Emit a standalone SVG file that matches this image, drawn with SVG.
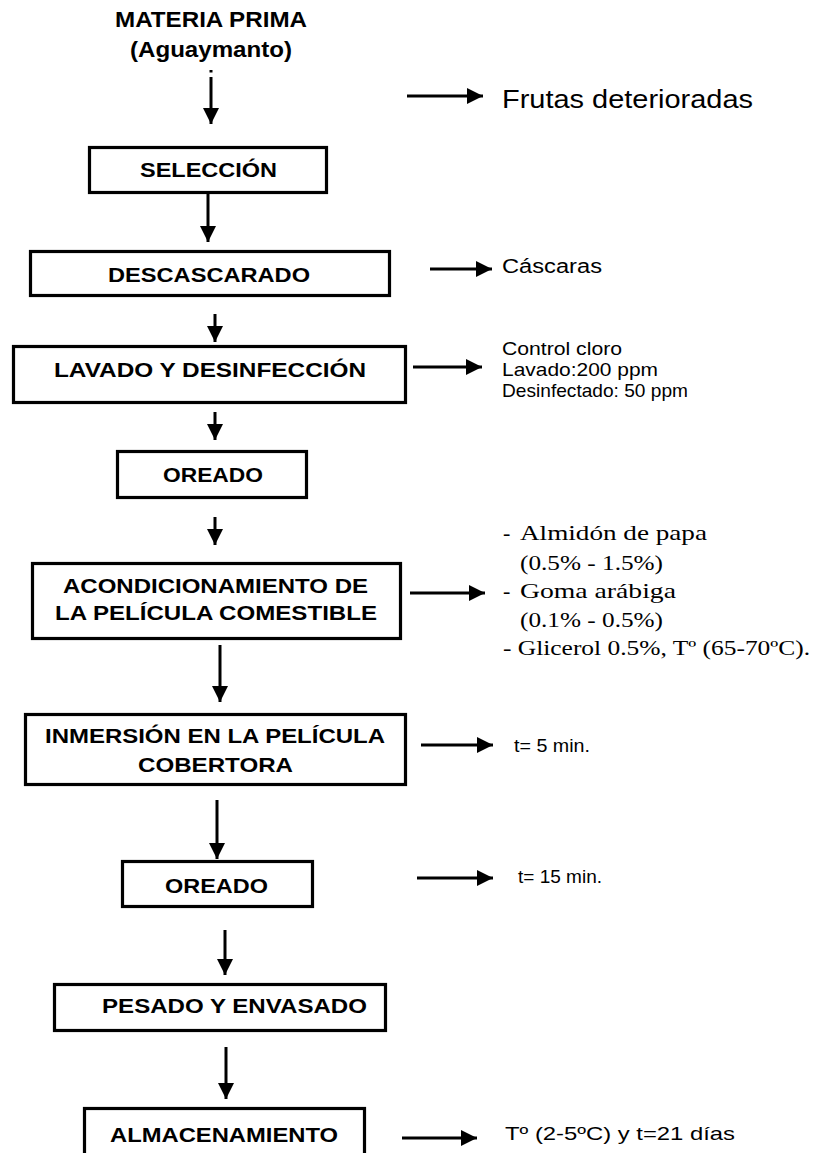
<svg xmlns="http://www.w3.org/2000/svg" width="824" height="1153" viewBox="0 0 824 1153">
<style>
.box{fill:#fff;stroke:#000;stroke-width:3.2}
.lbl{font-family:"Liberation Sans",Arial,sans-serif;font-weight:bold;font-size:21px;fill:#000}
.title{font-family:"Liberation Sans",Arial,sans-serif;font-weight:bold;font-size:22px;fill:#000}
.note{font-family:"Liberation Sans",Arial,sans-serif;font-size:18.5px;fill:#000}
.serif{font-family:"Liberation Serif","Times New Roman",serif;font-size:22px;fill:#000}
.conn line{stroke:#000;stroke-width:3;marker-end:url(#ah)}
</style>
<defs>
<marker id="ah" markerUnits="userSpaceOnUse" markerWidth="17" markerHeight="17" viewBox="0 0 17 17" refX="16" refY="8.5" orient="auto">
<path d="M0,0.5 L16,8.5 L0,16.5 Z" fill="#000"/>
</marker>
</defs>
<rect width="824" height="1153" fill="#fff"/>

<g id="materia-prima">
<text class="title" x="115" y="27" textLength="192" lengthAdjust="spacingAndGlyphs">MATERIA PRIMA</text>
<text class="title" x="130" y="57" textLength="162" lengthAdjust="spacingAndGlyphs">(Aguaymanto)</text>
</g>

<g id="seleccion">
<rect class="box" x="89.5" y="147.5" width="237" height="45"/>
<text class="lbl" x="140" y="177" textLength="137" lengthAdjust="spacingAndGlyphs">SELECCIÓN</text>
</g>

<g id="descascarado">
<rect class="box" x="30.5" y="251.5" width="359" height="44"/>
<text class="lbl" x="108" y="282" textLength="202" lengthAdjust="spacingAndGlyphs">DESCASCARADO</text>
</g>

<g id="lavado">
<rect class="box" x="13.5" y="346.5" width="392" height="56"/>
<text class="lbl" x="54" y="377" textLength="312" lengthAdjust="spacingAndGlyphs">LAVADO Y DESINFECCIÓN</text>
</g>

<g id="oreado1">
<rect class="box" x="117.5" y="451.5" width="189" height="46"/>
<text class="lbl" x="163" y="482" textLength="100" lengthAdjust="spacingAndGlyphs">OREADO</text>
</g>

<g id="acondicionamiento">
<rect class="box" x="32.5" y="563.5" width="368" height="75"/>
<text class="lbl" x="63" y="593" textLength="305" lengthAdjust="spacingAndGlyphs">ACONDICIONAMIENTO DE</text>
<text class="lbl" x="55" y="620" textLength="322" lengthAdjust="spacingAndGlyphs">LA PELÍCULA COMESTIBLE</text>
</g>

<g id="inmersion">
<rect class="box" x="25.5" y="714.5" width="380" height="70"/>
<text class="lbl" x="45" y="743" textLength="340" lengthAdjust="spacingAndGlyphs">INMERSIÓN EN LA PELÍCULA</text>
<text class="lbl" x="138" y="772" textLength="155" lengthAdjust="spacingAndGlyphs">COBERTORA</text>
</g>

<g id="oreado2">
<rect class="box" x="122.5" y="861.5" width="190" height="45"/>
<text class="lbl" x="165" y="893" textLength="103" lengthAdjust="spacingAndGlyphs">OREADO</text>
</g>

<g id="pesado">
<rect class="box" x="54.5" y="984.5" width="331" height="46"/>
<text class="lbl" x="102" y="1013" textLength="265" lengthAdjust="spacingAndGlyphs">PESADO Y ENVASADO</text>
</g>

<g id="almacenamiento">
<rect class="box" x="84.5" y="1108.5" width="280" height="70"/>
<text class="lbl" x="110" y="1142" textLength="228" lengthAdjust="spacingAndGlyphs">ALMACENAMIENTO</text>
</g>

<g id="notes">
<text class="note" x="502" y="108" style="font-size:26px" textLength="251" lengthAdjust="spacingAndGlyphs">Frutas deterioradas</text>
<text class="note" x="502" y="273" style="font-size:20px" textLength="100" lengthAdjust="spacingAndGlyphs">Cáscaras</text>
<text class="note" x="502" y="355" textLength="120" lengthAdjust="spacingAndGlyphs">Control cloro</text>
<text class="note" x="502" y="376" textLength="156" lengthAdjust="spacingAndGlyphs">Lavado:200 ppm</text>
<text class="note" x="502" y="397" textLength="186" lengthAdjust="spacingAndGlyphs">Desinfectado: 50 ppm</text>
<text class="serif" x="503" y="540">-</text>
<text class="serif" x="520" y="540" textLength="187" lengthAdjust="spacingAndGlyphs">Almidón de papa</text>
<text class="serif" x="520" y="570" textLength="143" lengthAdjust="spacingAndGlyphs">(0.5% - 1.5%)</text>
<text class="serif" x="503" y="598">-</text>
<text class="serif" x="520" y="598" textLength="156" lengthAdjust="spacingAndGlyphs">Goma arábiga</text>
<text class="serif" x="520" y="627" textLength="143" lengthAdjust="spacingAndGlyphs">(0.1% - 0.5%)</text>
<text class="serif" x="503" y="655" textLength="307" lengthAdjust="spacingAndGlyphs">- Glicerol 0.5%, Tº (65-70ºC).</text>
<text class="note" x="514" y="752" textLength="76" lengthAdjust="spacingAndGlyphs">t= 5 min.</text>
<text class="note" x="518" y="883" textLength="84" lengthAdjust="spacingAndGlyphs">t= 15 min.</text>
<text class="note" x="505" y="1140" textLength="230" lengthAdjust="spacingAndGlyphs">Tº (2-5ºC) y t=21 días</text>
</g>

<g id="connectors" class="conn">
<rect x="209.5" y="70" width="3" height="2.5" fill="#000"/>
<line x1="211" y1="77" x2="211" y2="124"/>
<line x1="208" y1="194" x2="208" y2="242"/>
<line x1="215" y1="314" x2="215" y2="342"/>
<line x1="215" y1="412" x2="215" y2="440"/>
<line x1="215" y1="517" x2="215" y2="545"/>
<line x1="220" y1="645" x2="220" y2="702"/>
<line x1="217" y1="800" x2="217" y2="859"/>
<line x1="225" y1="930" x2="225" y2="975"/>
<line x1="226" y1="1047" x2="226" y2="1099"/>
<line x1="407" y1="96" x2="483" y2="96"/>
<line x1="430" y1="269" x2="492" y2="269"/>
<line x1="413" y1="367" x2="482" y2="367"/>
<line x1="410" y1="593" x2="485" y2="593"/>
<line x1="421" y1="745" x2="493" y2="745"/>
<line x1="417" y1="878" x2="493" y2="878"/>
<line x1="402" y1="1138" x2="477" y2="1138"/>
</g>
</svg>
